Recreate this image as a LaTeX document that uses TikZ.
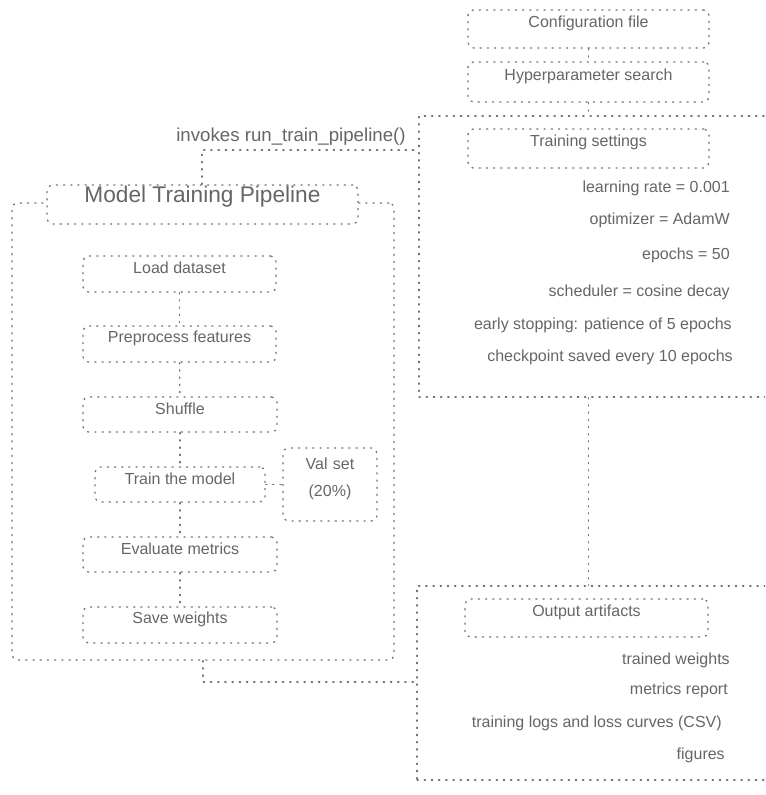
\documentclass[tikz,border=0pt]{standalone}
\usepackage{fontspec}
\setmainfont{Liberation Sans}
\usetikzlibrary{fit}
\tikzset{
  ln/.style={draw=black!55, line width=1pt, dash pattern=on 0.9pt off 4.5pt, line cap=round},
  box/.style={ln, rounded corners=4pt, inner sep=0pt, text=black!60, font=\fontsize{12}{14}\selectfont},
  panel/.style={ln, inner sep=0pt},
  item/.style={anchor=east, text=black!60, font=\fontsize{12}{14}\selectfont, inner sep=0pt},
  hdr/.style={box, font=\fontsize{17}{19}\selectfont},
  lbl/.style={text=black!60, font=\fontsize{14}{16}\selectfont, inner sep=0pt}
}
\begin{document}
\begin{tikzpicture}[x=0.75pt,y=-0.75pt]
\clip (0,0) rectangle (765,795);
\fill[white] (0,0) rectangle (765,795);

% left container
\node[panel, rounded corners=4pt, fit={(12,203)(394,660)}] (big) {};
\node[hdr, fill=white, fit={(47,185)(358,224)}] (hd) {Model Training Pipeline};

\node[box, fit={(83,256)(276,292)}] (b1) {Load dataset};
\node[box, fit={(83,326)(276,362)}] (b2) {Preprocess features};
\node[box, fit={(83,397)(277,432)}] (b3) {Shuffle};
\node[box, fit={(95,467)(265,502)}] (b4) {Train the model};
\node[box, fit={(283,448)(377,521)}, align=center] (sd) {Val set\\[6pt](20\%)};
\node[box, fit={(83,537)(277,572)}] (b5) {Evaluate metrics};
\node[box, fit={(83,607)(277,643)}] (b6) {Save weights};

\draw[ln] (b1) -- (b2);
\draw[ln] (b2) -- (b3);
\draw[ln] (b3) -- (b4);
\draw[ln] (b4) -- (b5);
\draw[ln] (b5) -- (b6);
\draw[ln] (b4) -- (sd);

% right column
\node[box, fit={(468,10)(709,48)}] (t1) {Configuration file};
\node[box, fit={(468,62)(709,102)}] (t2) {Hyperparameter search};

\node[panel, fit={(419,116)(775,397)}] (up) {};
\node[box, fit={(468,129)(709,168)}] (ba) {Training settings};
\node[item] (u1) at (730,188) {learning rate = 0.001};
\node[item] (u2) at (730,220) {optimizer = AdamW};
\node[item] (u3) at (730,255) {epochs = 50};
\node[item] (u4) at (730,292) {scheduler = cosine decay};
\node[item] (u5) at (732,325) {early stopping: patience of 5 epochs};
\node[item] (u6) at (733,357) {checkpoint saved every 10 epochs};

\node[panel, fit={(417,586)(775,780)}] (lo) {};
\node[box, fit={(465,599)(708,637)}] (bb) {Output artifacts};
\node[item] (m1) at (730,660) {trained weights};
\node[item] (m2) at (728,690) {metrics report};
\node[item] (m3) at (722,723) {training logs and loss curves (CSV)};
\node[item] (m4) at (725,755) {figures};

\draw[ln] (t1) -- (t2);
\draw[ln] (t2) -- (up.north -| t2);
\draw[ln] (up.south -| t2) -- (lo.north -| t2);

% connectors from the left container
\coordinate (lp) at (202,150);
\draw[ln] (hd.north -| lp) |- (up.west |- lp);
\node[lbl] (lab) at (291,137) {invokes run\_train\_pipeline()};

\coordinate (bp) at (203,682);
\draw[ln] (big.south -| bp) |- (lo.west |- bp);
\end{tikzpicture}
\end{document}
